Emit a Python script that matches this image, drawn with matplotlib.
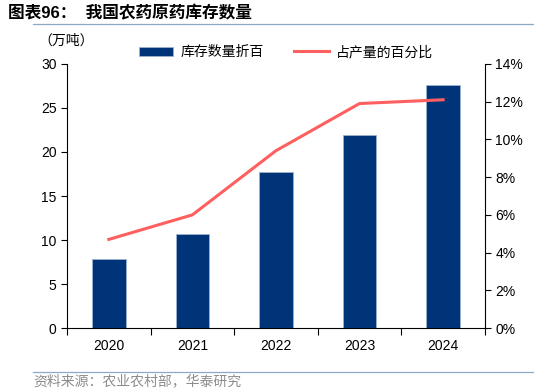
import matplotlib
matplotlib.use("Agg")
import matplotlib.pyplot as plt
from matplotlib.ticker import FuncFormatter

plt.rcParams['font.family'] = ['Liberation Sans', 'Noto Sans CJK SC', 'DejaVu Sans']

# data
years = ['2020', '2021', '2022', '2023', '2024']
stock = [7.8, 10.7, 17.7, 21.9, 27.6]          # 万吨
share = [4.7, 6.0, 9.4, 11.9, 12.1]            # %

bar_color = '#003478'
line_color = '#FF5F5F'

fig = plt.figure(figsize=(5.34, 3.92), dpi=100)
ax = fig.add_axes([0.1255, 0.163, 0.7825, 0.674])
ax2 = ax.twinx()

x = range(len(years))
ax.bar(x, stock, width=0.4, color=bar_color, edgecolor='#9DB1CF', linewidth=0.6,
       label='库存数量折百', zorder=2)
ax2.plot(x, share, color=line_color, linewidth=2.2, label='占产量的百分比', zorder=3)

ax.set_xlim(-0.5, len(years) - 0.5)
ax.set_ylim(0, 30)
ax.set_yticks(range(0, 31, 5))
ax2.set_ylim(0, 14)
ax2.set_yticks(range(0, 15, 2))
ax2.yaxis.set_major_formatter(FuncFormatter(lambda v, p: f'{v:.0f}%'))

# category boundary ticks on x axis
ax.set_xticks([i + 0.5 for i in range(-1, len(years))], minor=False)
ax.set_xticklabels([])
ax.set_xticks(list(x), minor=True)
ax.set_xticklabels(years, minor=True, fontsize=10)
ax.tick_params(axis='x', which='minor', length=0, pad=8)
ax.tick_params(axis='x', which='major', length=5, direction='out', width=0.8)

for a in (ax, ax2):
    a.spines['top'].set_visible(False)
ax.spines['right'].set_visible(False)
ax2.spines['left'].set_visible(False)
ax2.spines['bottom'].set_visible(False)
ax.tick_params(axis='y', length=4, width=0.8, labelsize=10)
ax2.tick_params(axis='y', length=4, width=0.8, labelsize=10)

h1, l1 = ax.get_legend_handles_labels()
h2, l2 = ax2.get_legend_handles_labels()
fig.legend(h1 + h2, l1 + l2, loc='center', bbox_to_anchor=(0.535, 0.867), ncol=2,
           frameon=False, fontsize=10, handlelength=2.5, handleheight=0.6,
           columnspacing=2.2, handletextpad=0.5)

fig.text(0.072, 0.897, '（万吨）', fontsize=10, ha='left', va='center')

fig.text(0.015, 0.967, '图表96：  我国农药原药库存数量', fontsize=12, fontweight='bold',
         ha='left', va='center')
fig.add_artist(plt.Line2D([0.062, 1.0], [0.938, 0.938], color='#8EA9C8', linewidth=0.9))
fig.add_artist(plt.Line2D([0.062, 1.0], [0.051, 0.051], color='#8EA9C8', linewidth=0.9))
fig.text(0.062, 0.028, '资料来源：农业农村部，华泰研究', fontsize=10, color='#8C8C8C',
         ha='left', va='center')

fig.savefig('out.png', dpi=100)
